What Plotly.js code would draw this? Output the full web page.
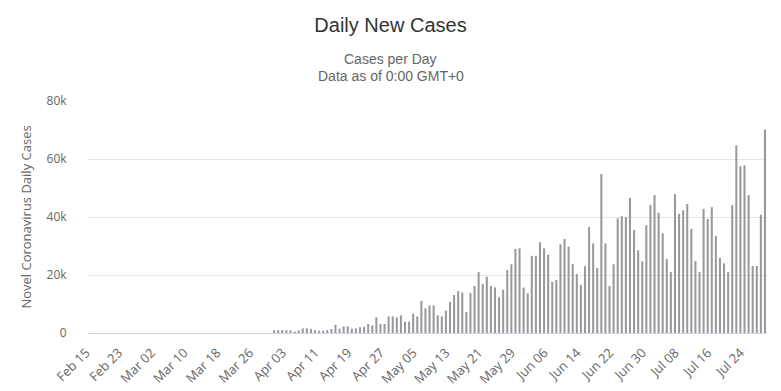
<!DOCTYPE html>
<html>
<head>
<meta charset="utf-8">
<script src="https://cdn.plot.ly/plotly-3.0.1.min.js"></script>
<style>html,body{margin:0;padding:0;background:#fff;}#chart{width:781px;height:391px;}</style>
</head>
<body>
<div id="chart"></div>
<script>
// Daily new cases, in thousands, by month (Feb 15 .. Jul 29)
const casesFeb = [0,0,0,0,0,0,0,0,0,0,0,0,0,0,0];
const casesMar = [0,0,0,0,0,0,0,0,0,0,0,0,0,0,0,0,0,0,0,0,0,0,0,0,0,0,0,0,0,0,1.0];
const casesApr = [1.0,1.0,1.0,0.9,0.5,0.9,1.6,1.6,1.4,1.0,0.8,0.8,1.0,1.4,2.8,1.5,2.3,2.3,1.5,1.6,2.0,2.1,3.1,2.6,5.4,3.1,3.1,5.7,5.7,5.4];
const casesMay = [6.1,3.9,3.9,6.6,5.7,11.1,8.5,9.5,9.5,6.1,5.7,7.7,10.7,13.1,14.5,14.0,7.2,13.8,16.2,21.0,16.9,19.4,16.2,15.7,12.3,14.9,21.7,23.7,29.0,29.2,15.7];
const casesJun = [13.7,26.6,26.6,31.3,29.2,27.0,17.6,18.3,30.6,32.4,29.8,23.8,20.3,16.6,23.0,36.6,30.9,22.4,54.8,30.9,16.2,23.7,39.5,40.3,39.9,46.6,35.5,28.5,24.7,37.2];
const casesJul = [44.1,47.6,41.5,34.4,25.5,21.0,47.9,41.1,42.3,44.5,35.9,24.8,21.0,42.8,39.3,43.4,33.4,25.9,24.0,21.0,44.1,64.7,57.5,57.8,47.6,23.1,23.1,40.8,70.2];

const xTickLabels = ["Feb 15","Feb 23","Mar 02","Mar 10","Mar 18","Mar 26","Apr 03","Apr 11","Apr 19","Apr 27","May 05","May 13","May 21","May 29","Jun 06","Jun 14","Jun 22","Jun 30","Jul 08","Jul 16","Jul 24"];
const yTickVals = [0,20000,40000,60000,80000];
const yTickLabels = ["0","20k","40k","60k","80k"];

const months = [["Feb",casesFeb,15],["Mar",casesMar,1],["Apr",casesApr,1],["May",casesMay,1],["Jun",casesJun,1],["Jul",casesJul,1]];
const dates = [], cases = [];
months.forEach(([m, arr, start]) => {
  arr.forEach((v, i) => {
    dates.push(m + " " + String(start + i).padStart(2, "0"));
    cases.push(v * 1000);
  });
});

const trace = {
  type: "bar",
  x: dates,
  y: cases,
  marker: {color: "#999999", line: {width: 0}},
  hoverinfo: "x+y"
};

const layout = {
  width: 781, height: 391,
  margin: {l: 88, r: 14, t: 101, b: 58, pad: 0},
  paper_bgcolor: "#ffffff", plot_bgcolor: "#ffffff",
  bargap: 0.5,
  showlegend: false,
  font: {family: "Open Sans, Arial, sans-serif", color: "#666666", size: 12},
  title: {
    text: "Daily New Cases",
    font: {family: "Liberation Sans, Arial, sans-serif", size: 20, color: "#333333"},
    x: 0.5, xref: "container", xanchor: "center",
    y: 1 - 25/391, yref: "container", yanchor: "middle"
  },
  annotations: [
    {text: "Cases per Day", xref: "paper", yref: "paper", x: (390.5-88)/679, y: (333-59)/232,
     xanchor: "center", yanchor: "middle", showarrow: false,
     font: {family: "Liberation Sans, Arial, sans-serif", size: 14, color: "#666666"}},
    {text: "Data as of 0:00 GMT+0", xref: "paper", yref: "paper", x: (390.5-88)/679, y: (333-76)/232,
     xanchor: "center", yanchor: "middle", showarrow: false,
     font: {family: "Liberation Sans, Arial, sans-serif", size: 14, color: "#666666"}}
  ],
  xaxis: {
    type: "category",
    tickmode: "array", tickvals: xTickLabels, ticktext: xTickLabels,
    tickangle: -45,
    ticks: "outside", ticklen: 6, tickcolor: "rgba(0,0,0,0)",
    ticklabelshift: -4,
    showgrid: false, zeroline: false,
    showline: true, linecolor: "#ccd6eb", linewidth: 1,
    tickfont: {size: 13, color: "#666666"},
    automargin: false, fixedrange: true
  },
  yaxis: {
    range: [0, 80000],
    tickmode: "array", tickvals: yTickVals, ticktext: yTickLabels,
    ticks: "outside", ticklen: 18, tickcolor: "rgba(0,0,0,0)",
    showgrid: true, gridcolor: "#e6e6e6", gridwidth: 1,
    zeroline: false, showline: false,
    tickfont: {size: 12, color: "#666666"},
    title: {text: "Novel Coronavirus Daily Cases", font: {size: 13, color: "#666666"}, standoff: 12},
    automargin: false, fixedrange: true
  }
};

Plotly.newPlot("chart", [trace], layout, {displayModeBar: false, staticPlot: true});
</script>
</body>
</html>
